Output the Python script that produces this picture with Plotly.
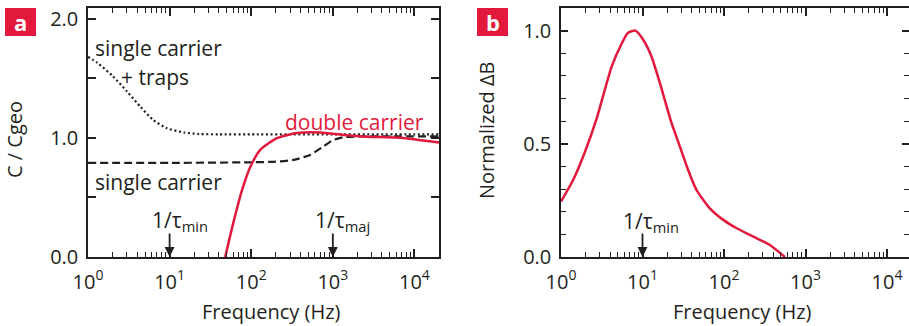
import numpy as np
import plotly.graph_objects as go

# ---------------- data ----------------
# panel a: normalised capacitance vs frequency
freq_traps = [1, 1.3, 2, 3, 4.4, 6.3, 9.3, 15, 23, 40, 100, 1000, 10000, 20000]
cap_traps = [1.68, 1.63, 1.52, 1.39, 1.26, 1.15, 1.08, 1.045, 1.032, 1.03, 1.03, 1.03, 1.03, 1.03]

freq_single = [1, 10, 100, 200, 330, 525, 760, 1000, 1350, 2000, 5000, 20000]
cap_single = [0.79, 0.79, 0.795, 0.80, 0.815, 0.857, 0.927, 0.98, 1.005, 1.012, 1.012, 1.012]

freq_double = [48, 60, 77, 98, 129, 207, 363, 708, 1350, 2630, 6760, 20000]
cap_double = [0.0, 0.28, 0.56, 0.76, 0.90, 0.997, 1.04, 1.045, 1.025, 1.01, 1.0, 0.96]

# panel b: normalised Delta B vs frequency
freq_b = [1, 1.41, 1.97, 2.73, 4.17, 5.5, 6.6, 8.2, 10.2, 12.9, 16.3, 22.8, 28, 35, 46, 67, 98, 143, 229, 366, 560]
dB_b = [0.245, 0.34, 0.465, 0.61, 0.84, 0.94, 0.99, 1.0, 0.96, 0.886, 0.77, 0.59, 0.50, 0.40, 0.296, 0.215, 0.164, 0.127, 0.09, 0.053, 0.0]

x_tickvals = [1, 10, 100, 1000, 10000]
x_ticktext = ["10<sup>0</sup>", "10<sup>1</sup>", "10<sup>2</sup>", "10<sup>3</sup>", "10<sup>4</sup>"]
x_minor = [m * 10 ** d for d in range(5) for m in range(2, 10) if m * 10 ** d <= 20000]

ya_tickvals = [0, 1, 2]
ya_ticktext = ["0.0", "1.0", "2.0"]
yb_tickvals = [0, 0.5, 1.0]
yb_ticktext = ["0.0", "0.5", "1.0"]

RED = "#E2193C"
INK = "#231F20"
FONT = "Open Sans"
W, H = 909, 326


def px(x):
    return x / W


def py(y):
    return 1 - y / H


fig = go.Figure()

fig.add_trace(go.Scatter(x=freq_traps, y=cap_traps, mode="lines", xaxis="x", yaxis="y",
                         line=dict(color=INK, width=2.2, dash="2px,2.6px", shape="spline", smoothing=0.6)))
fig.add_trace(go.Scatter(x=freq_single, y=cap_single, mode="lines", xaxis="x", yaxis="y",
                         line=dict(color=INK, width=2.2, dash="8px,4px", shape="spline", smoothing=0.6)))
fig.add_trace(go.Scatter(x=freq_double, y=cap_double, mode="lines", xaxis="x", yaxis="y",
                         line=dict(color=RED, width=2.5, shape="spline", smoothing=0.6)))
fig.add_trace(go.Scatter(x=freq_b, y=dB_b, mode="lines", xaxis="x2", yaxis="y2",
                         line=dict(color=RED, width=2.5, shape="spline", smoothing=0.5)))

tickfont = dict(family=FONT, size=20, color=INK)


def xaxis(domain, rng, anchor):
    return dict(type="log", domain=domain, range=rng, anchor=anchor, automargin=False,
                tickmode="array", tickvals=x_tickvals, ticktext=x_ticktext,
                ticks="inside", ticklen=8, tickwidth=1.5, tickcolor=INK,
                minor=dict(tickmode="array", tickvals=x_minor, ticks="inside", ticklen=5,
                           tickwidth=1.2, tickcolor=INK, showgrid=False),
                showline=True, linecolor=INK, linewidth=1.5, mirror="ticks",
                showgrid=False, zeroline=False, tickfont=tickfont, ticklabelstandoff=6)


ydom = [py(257), py(8)]
fig.update_layout(
    width=W, height=H, margin=dict(l=0, r=0, t=0, b=0),
    paper_bgcolor="white", plot_bgcolor="white", showlegend=False,
    xaxis=xaxis([px(88), px(439)], [0, np.log10(20000)], "y"),
    yaxis=dict(domain=ydom, range=[0, 2.09], anchor="x", automargin=False,
               tickmode="array", tickvals=ya_tickvals, ticktext=ya_ticktext,
               ticks="inside", ticklen=8, tickwidth=1.5, tickcolor=INK,
               minor=dict(tickmode="array", tickvals=[0.5, 1.5], ticks="inside", ticklen=8,
                          tickwidth=1.5, tickcolor=INK, showgrid=False),
               showline=True, linecolor=INK, linewidth=1.5, mirror="ticks",
               showgrid=False, zeroline=False, tickfont=tickfont, ticklabelstandoff=4),
    xaxis2=xaxis([px(561), 1.0], [0, 4.27], "y2"),
    yaxis2=dict(domain=ydom, range=[0, 1.1], anchor="x2", automargin=False,
                tickmode="array", tickvals=yb_tickvals, ticktext=yb_ticktext,
                ticks="inside", ticklen=7, tickwidth=1.5, tickcolor=INK,
                minor=dict(tickmode="array", tickvals=[0.1, 0.2, 0.3, 0.4, 0.6, 0.7, 0.8, 0.9, 1.1],
                           ticks="inside", ticklen=5, tickwidth=1.2, tickcolor=INK, showgrid=False),
                showline=True, linecolor=INK, linewidth=1.5, mirror="ticks",
                showgrid=False, zeroline=False, tickfont=tickfont, ticklabelstandoff=4),
)

annots = []


def label(x, y, text, color=INK, xanchor="left", angle=0, size=21):
    annots.append(dict(xref="paper", yref="paper", x=px(x), y=py(y), text=text, showarrow=False,
                       xanchor=xanchor, yanchor="middle", textangle=angle,
                       font=dict(family=FONT, size=size, color=color)))


label(93, 48, "single carrier")
label(119, 77, "+ traps")
label(93, 182, "single carrier")
label(283, 122, "double carrier", color=RED)
label(150, 221, "1/τ<sub>min</sub>")
label(313, 221, "1/τ<sub>maj</sub>")
label(621, 222, "1/τ<sub>min</sub>")
label(14, 140, "C / Cgeo", xanchor="center", angle=-90, size=20)
label(487, 130, "Normalized ΔB", xanchor="center", angle=-90, size=20)
label(271, 311, "Frequency (Hz)", xanchor="center", size=20)
label(742, 311, "Frequency (Hz)", xanchor="center", size=20)

# arrows marking the characteristic frequencies
for xr, yr, f in [("x", "y", 10), ("x", "y", 1000), ("x2", "y2", 10)]:
    annots.append(dict(xref=xr, yref=yr, x=np.log10(f), y=0, text="", showarrow=True,
                       ax=0, ay=-25, axref="pixel", ayref="pixel",
                       arrowhead=2, arrowsize=1.1, arrowwidth=1.8, arrowcolor=INK))

# panel letters
shapes = []
for x0, letter in [(5, "a"), (477, "b")]:
    shapes.append(dict(type="rect", xref="paper", yref="paper", x0=px(x0), x1=px(x0 + 31),
                       y0=py(36), y1=py(8), fillcolor=RED, line=dict(width=0), layer="above"))
    annots.append(dict(xref="paper", yref="paper", x=px(x0 + 15.5), y=py(22), text="<b>%s</b>" % letter,
                       showarrow=False, xanchor="center", yanchor="middle",
                       font=dict(family=FONT, size=22, color="white")))

fig.update_layout(annotations=annots, shapes=shapes)
fig.write_html("out.html")
